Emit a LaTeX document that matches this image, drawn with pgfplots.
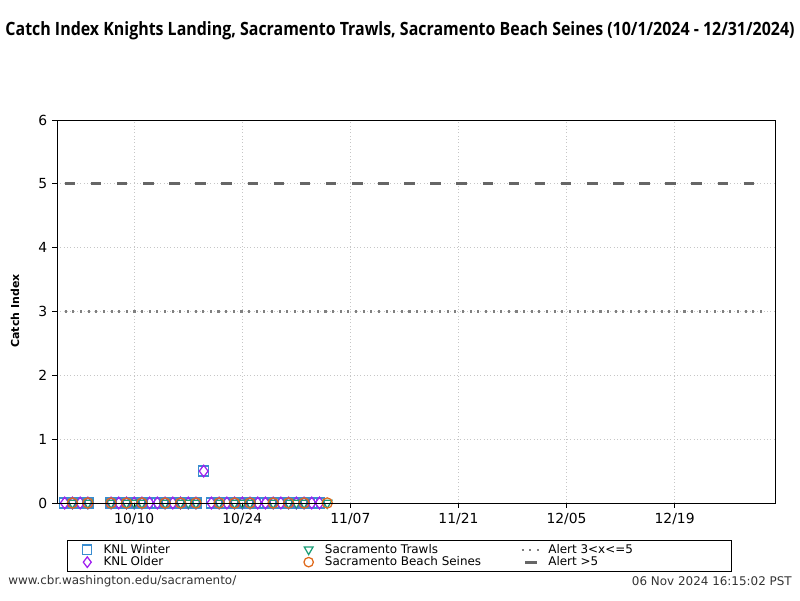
\documentclass[border=0pt]{standalone}
\usepackage{fontspec}
\setmainfont{DejaVu Sans}
\newfontfamily\titlefont[FakeStretch=0.87]{Open Sans}
\usepackage{pgfplots}
\pgfplotsset{compat=1.18}
\definecolor{cwinter}{HTML}{3A8DD0}
\definecolor{colder}{HTML}{A020F0}
\definecolor{ctrawl}{HTML}{1B9E77}
\definecolor{cseine}{HTML}{E0691A}
\definecolor{alert3}{HTML}{808080}
\definecolor{alert5}{HTML}{666666}
\pgfplotsset{
  markimg/.style={legend image code/.code={\path (-13.4pt,0pt) (9.4pt,0pt); \draw[##1] plot coordinates {(0pt,0pt)};}},
  lineimg/.style={legend image code/.code={\path (-13.4pt,0pt) (9.4pt,0pt); \draw[##1] (-6.9pt,0pt) -- (6.9pt,0pt);}},
  dashimg/.style={legend image code/.code={\path (-13.4pt,0pt) (9.4pt,0pt); \draw[##1, solid] (-4.3pt,0pt) -- (4.3pt,0pt);}},
}
\begin{document}
\begin{tikzpicture}
\useasboundingbox (0,0) rectangle (576pt,432pt);
\begin{axis}[
  at={(41.04pt,69.84pt)}, anchor=south west,
  width=516.96pt, height=275.76pt, scale only axis,
  xmin=-1, xmax=92, ymin=0, ymax=6,
  xtick={9,23,37,51,65,79},
  xticklabels={10/10,10/24,11/07,11/21,12/05,12/19},
  ytick={0,1,2,3,4,5,6},
  tick pos=left, tick align=outside,
  major tick length=3.5pt,
  every tick/.style={black, line width=0.6pt},
  tick label style={font=\fontsize{10}{12}\selectfont},
  /pgf/number format/assume math mode=true,
  grid=major,
  grid style={dotted, gray!45, line width=0.5pt},
  axis line style={black, line width=0.7pt},
  clip=false,
  legend columns=3,
  legend cell align=left,
  legend style={at={(0,0)}, anchor=north west, xshift=7.2pt, yshift=-26.64pt,
    draw=black, line width=0.6pt, rounded corners=0pt, inner sep=0.6pt,
    font=\fontsize{8.6}{10}\selectfont, row sep=-3pt},
]
% legend entries (row-wise so that columns read as in the reference)
\addlegendimage{markimg, only marks, mark=square, mark size=3.3pt, cwinter, mark options={line width=0.9pt}}
\addlegendentry{\makebox[132pt][l]{KNL Winter}}
\addlegendimage{markimg, only marks, mark=triangle, mark size=3.6pt, ctrawl, mark options={rotate=180, line width=0.9pt}}
\addlegendentry{\makebox[132pt][l]{Sacramento Trawls}}
\addlegendimage{lineimg, alert3, line width=1.5pt, dash pattern=on 1.5pt off 4pt}
\addlegendentry{\makebox[129pt][l]{Alert 3<x<=5}}
\addlegendimage{markimg, only marks, mark=diamond, mark size=3.8pt, colder, mark options={line width=0.9pt}}
\addlegendentry{\makebox[132pt][l]{KNL Older}}
\addlegendimage{markimg, only marks, mark=o, mark size=3.4pt, cseine, mark options={line width=0.9pt}}
\addlegendentry{\makebox[132pt][l]{Sacramento Beach Seines}}
\addlegendimage{dashimg, alert5, line width=2.1pt}
\addlegendentry{\makebox[129pt][l]{Alert >5}}
% Alert lines
\addplot[forget plot, alert3, line width=1.5pt, dash pattern=on 1.5pt off 4pt] coordinates {(0,3)(91,3)};
\addplot[forget plot, alert5, line width=2.1pt, dash pattern=on 7.6pt off 11.2pt] coordinates {(0,5)(91,5)};
% KNL Winter
\addplot[forget plot, only marks, mark=square, mark size=3.6pt, cwinter, mark options={line width=0.9pt}] coordinates {
(0,0)(1,0)(2,0)(3,0)
(6,0)(7,0)(8,0)(9,0)(10,0)(11,0)(12,0)(13,0)(14,0)(15,0)(16,0)(17,0)
(18,0.5)
(19,0)(20,0)(21,0)(22,0)(23,0)(24,0)(25,0)(26,0)(27,0)(28,0)(29,0)(30,0)(31,0)(32,0)(33,0)};
% KNL Older
\addplot[forget plot, only marks, mark=diamond, mark size=4.2pt, colder, mark options={line width=0.9pt}] coordinates {
(0,0)(1,0)(2,0)(3,0)
(6,0)(7,0)(8,0)(9,0)(10,0)(11,0)(12,0)(13,0)(14,0)(15,0)(16,0)(17,0)
(18,0.5)
(19,0)(20,0)(21,0)(22,0)(23,0)(24,0)(25,0)(26,0)(27,0)(28,0)(29,0)(30,0)(31,0)(32,0)(33,0)};
% Sacramento Trawls
\addplot[forget plot, only marks, mark=triangle, mark size=3.9pt, ctrawl, mark options={rotate=180, line width=0.9pt}] coordinates {
(1,0)(3,0)(6,0)(8,0)(9,0)(10,0)(13,0)(15,0)(16,0)(17,0)(20,0)(22,0)(23,0)(24,0)(27,0)(29,0)(30,0)(31,0)(34,0)};
% Sacramento Beach Seines
\addplot[forget plot, only marks, mark=o, mark size=3.7pt, cseine, mark options={line width=0.9pt}] coordinates {
(1,0)(3,0)(6,0)(8,0)(10,0)(13,0)(15,0)(17,0)(20,0)(22,0)(24,0)(27,0)(29,0)(31,0)(34,0)};
\end{axis}
\draw[black, line width=0.7pt] (41.04pt,69.84pt) -- (558pt,69.84pt);
\node[font=\titlefont\bfseries\fontsize{13.2}{15}\selectfont] at (288pt,409.7pt) {Catch Index Knights Landing, Sacramento Trawls, Sacramento Beach Seines (10/1/2024 - 12/31/2024)};
\node[rotate=90, font=\bfseries\fontsize{7.9}{10}\selectfont] at (10.8pt,208.1pt) {Catch Index};
\node[anchor=west, text=black!80, font=\fontsize{8.6}{10}\selectfont, inner sep=0pt] at (5.8pt,13.7pt) {www.cbr.washington.edu/sacramento/};
\node[anchor=east, text=black!80, font=\fontsize{8.6}{10}\selectfont, inner sep=0pt] at (570.3pt,13.7pt) {06 Nov 2024 16:15:02 PST};
\end{tikzpicture}
\end{document}
